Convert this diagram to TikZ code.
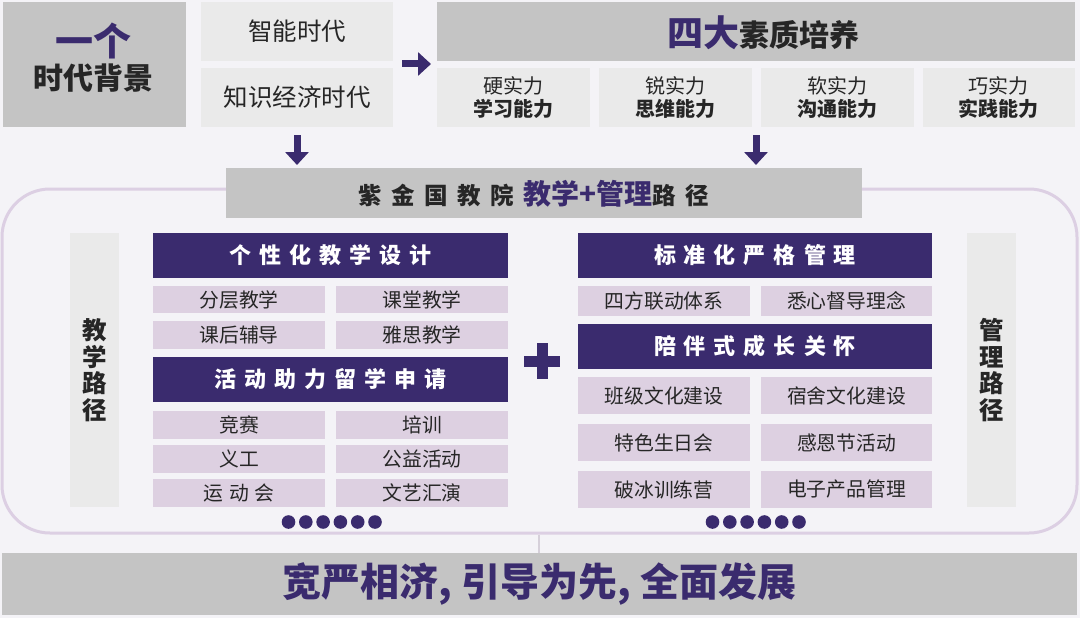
\documentclass[tikz,border=0pt]{standalone}
\usepackage{fontspec}
\setmainfont{Noto Sans CJK SC}
\usetikzlibrary{arrows.meta}
\definecolor{dp}{HTML}{3A2B6E}
\definecolor{gbar}{HTML}{C4C4C4}
\definecolor{lgray}{HTML}{EAEAEA}
\definecolor{lav}{HTML}{DDD0E1}
\definecolor{bgc}{HTML}{F4F3F7}
\definecolor{outl}{HTML}{DCCFE3}
\definecolor{txt}{HTML}{262626}
\definecolor{linec}{HTML}{D6D0DA}
\newcommand\fsz[1]{\fontsize{#1}{#1}\selectfont}
\makeatletter
\newcommand\spcd[2]{\def\spcd@sep{\hspace{#1}}\let\spcd@first\relax\@tfor\spcd@c:=#2\do{\spcd@first\spcd@c\let\spcd@first\spcd@sep}}
\makeatother
\tikzset{
  box/.style={inner sep=0pt, outer sep=0pt, anchor=north west, text=txt, align=center},
  gbox/.style={box, fill=gbar},
  lbox/.style={box, fill=lgray},
  item/.style={box, fill=lav, font=\fsz{19.8}},
  head/.style={box, fill=dp, text=white, font=\bfseries\fsz{22}},
  arr/.style={draw=dp, line width=7pt, -{Triangle[length=13pt,width=23pt]}},
  dotn/.style={circle, fill=dp, minimum size=13.6pt, inner sep=0pt},
  lbl/.style={inner sep=0pt, text=txt, align=center}
}
\begin{document}
\begin{tikzpicture}[x=1pt,y=-1pt]
\useasboundingbox (0,0) rectangle (1080,618);
\fill[bgc] (0,0) rectangle (1080,618);

% outline of the path panel
\draw[outl, line width=3pt, rounded corners=48pt] (2,189) rectangle (1077,533);
\coordinate (ob) at (539,534.5);

% top left
\node[gbox, minimum width=183pt, minimum height=125pt] (era) at (3,2) {};
\node[lbl, text=dp, font=\bfseries\fsz{38}] (one) at (93,41) {一个};
\node[lbl, font=\bfseries\fsz{30}] (eraT) at (94,78) {时代背景};
\node[lbox, minimum width=192pt, minimum height=59pt, font=\fsz{24.5}, text=txt] (zn) at (201,2) {智能时代};
\node[lbox, minimum width=192pt, minimum height=59pt, font=\fsz{24.5}, text=txt] (zs) at (201,68) {知识经济时代};

% top right
\node[gbox, minimum width=638pt, minimum height=59pt] (four) at (437,2) {};
\node[lbl, font=\bfseries] (fourT) at (763,33) {{\color{dp}\fsz{36}四大}{\fsz{30}素质培养}};
\node[lbox, minimum width=152.5pt, minimum height=59pt, font=\fontsize{20}{23}\selectfont] (q1) at (437,68) {硬实力\\\textbf{学习能力}};
\node[lbox, minimum width=152.5pt, minimum height=59pt, font=\fontsize{20}{23}\selectfont] (q2) at (599,68) {锐实力\\\textbf{思维能力}};
\node[lbox, minimum width=152.5pt, minimum height=59pt, font=\fontsize{20}{23}\selectfont] (q3) at (761,68) {软实力\\\textbf{沟通能力}};
\node[lbox, minimum width=152.5pt, minimum height=59pt, font=\fontsize{20}{23}\selectfont] (q4) at (922.5,68) {巧实力\\\textbf{实践能力}};

% middle bar
\node[gbox, minimum width=636pt, minimum height=50pt] (mid) at (226,168) {};
\node[lbl, font=\bfseries\fsz{23.5}] (midT) at (533.5,194) {\spcd{9.5pt}{紫金国教院}\hspace{9.5pt}{\color{dp}\fsz{28}教学+管理}\spcd{9.5pt}{路径}};

% arrows
\coordinate (ra1) at (402,64);
\coordinate (ra2) at (431,64);
\draw[arr] (ra1) -- (ra2);
\coordinate (da1) at (297,135);
\coordinate (da2) at (297,165);
\draw[arr] (da1) -- (da2);
\coordinate (db1) at (756,135);
\coordinate (db2) at (756,165);
\draw[arr] (db1) -- (db2);

% side boxes
\node[lbox, minimum width=49pt, minimum height=274pt, font=\bfseries\fontsize{24.5}{26.6}\selectfont] (teach) at (70,233) {教\\学\\路\\径};
\node[lbox, minimum width=49pt, minimum height=274pt, font=\bfseries\fontsize{24.5}{26.6}\selectfont] (manage) at (967,233) {管\\理\\路\\径};

% left column
\node[head, minimum width=355pt, minimum height=45pt] (h1) at (153,233) {\spcd{8pt}{个性化教学设计}};
\node[item, minimum width=172pt, minimum height=27pt] (a1) at (153,286) {分层教学};
\node[item, minimum width=172pt, minimum height=27pt] (a2) at (336,286) {课堂教学};
\node[item, minimum width=172pt, minimum height=28pt] (a3) at (153,321) {课后辅导};
\node[item, minimum width=172pt, minimum height=28pt] (a4) at (336,321) {雅思教学};
\node[head, minimum width=355pt, minimum height=45pt] (h2) at (153,357) {\spcd{8pt}{活动助力留学申请}};
\node[item, minimum width=172pt, minimum height=27.5pt] (b1) at (153,411) {竞赛};
\node[item, minimum width=172pt, minimum height=27.5pt] (b2) at (336,411) {培训};
\node[item, minimum width=172pt, minimum height=27.5pt] (b3) at (153,445) {义工};
\node[item, minimum width=172pt, minimum height=27.5pt] (b4) at (336,445) {公益活动};
\node[item, minimum width=172pt, minimum height=28pt] (b5) at (153,479) {\spcd{6pt}{运动会}};
\node[item, minimum width=172pt, minimum height=28pt] (b6) at (336,479) {文艺汇演};
\foreach \i in {0,...,5} \node[dotn] (dl\i) at (288.5+17.3*\i,522) {};

% plus
\fill[dp] (524,355.5) rectangle (560,366.5);
\fill[dp] (536.5,343) rectangle (547.5,379);

% right column
\node[head, minimum width=354pt, minimum height=45pt] (h3) at (578,233) {\spcd{8pt}{标准化严格管理}};
\node[item, minimum width=172pt, minimum height=30pt] (c1) at (578,286) {四方联动体系};
\node[item, minimum width=171pt, minimum height=30pt] (c2) at (761,286) {悉心督导理念};
\node[head, minimum width=354pt, minimum height=45pt] (h4) at (578,324) {\spcd{8pt}{陪伴式成长关怀}};
\node[item, minimum width=172pt, minimum height=37pt] (d1) at (578,377) {班级文化建设};
\node[item, minimum width=171pt, minimum height=37pt] (d2) at (761,377) {宿舍文化建设};
\node[item, minimum width=172pt, minimum height=37pt] (d3) at (578,424) {特色生日会};
\node[item, minimum width=171pt, minimum height=37pt] (d4) at (761,424) {感恩节活动};
\node[item, minimum width=172pt, minimum height=37pt] (d5) at (578,471) {破冰训练营};
\node[item, minimum width=171pt, minimum height=37pt] (d6) at (761,471) {电子产品管理};
\foreach \i in {0,...,5} \node[dotn] (dr\i) at (712.5+17.3*\i,522) {};

% bottom bar
\node[gbox, minimum width=1075pt, minimum height=62pt, text=dp, font=\bfseries\fsz{39}] (bot) at (2,553) {宽严相济, 引导为先, 全面发展};
\draw[linec, line width=2pt] (ob) -- (ob |- bot.north);
\end{tikzpicture}
\end{document}
